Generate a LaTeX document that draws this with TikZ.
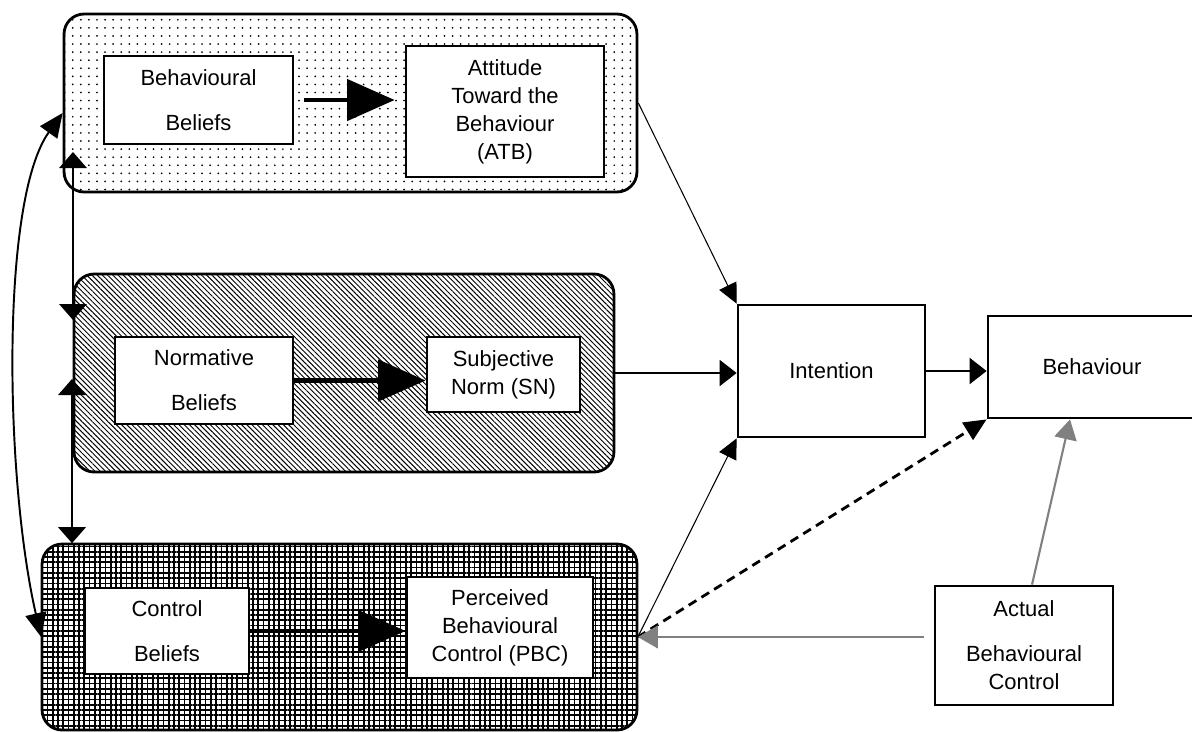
\documentclass[tikz,border=0pt]{standalone}
\usepackage{fontspec}
\setmainfont{Liberation Sans}
\usetikzlibrary{arrows.meta,patterns.meta}
\definecolor{arrowgray}{RGB}{128,128,128}

\tikzset{
  every node/.style={font=\fontsize{12.5pt}{16pt}\selectfont},
  box/.style={draw, line width=1.6pt, fill=white, align=center, inner sep=0pt},
  grp/.style={draw, line width=1.6pt, rounded corners=0.4cm, inner sep=0pt},
  dotfill/.style={pattern={Dots[distance=4.6pt, radius=0.55pt]}},
  linefill/.style={pattern={Lines[angle=-45, distance=2.1pt, line width=0.55pt]}},
  gridfill/.style={pattern={Hatch[distance=3pt, line width=1pt]}},
  bigarrow/.style={line width=2.6pt, -{Triangle[length=0.95cm, width=0.82cm]}},
  midarrow/.style={line width=1.2pt, -{Triangle[length=0.34cm, width=0.52cm]}},
  thinarrow/.style={line width=0.6pt, -{Triangle[length=0.4cm, width=0.38cm]}},
  dasharrow/.style={line width=1.6pt, dash pattern=on 0.18cm off 0.12cm, -{Triangle[length=0.45cm, width=0.4cm]}},
  grayarrow/.style={draw=arrowgray, line width=1.2pt, -{Triangle[length=0.4cm, width=0.45cm]}},
  linkarrow/.style={line width=1.1pt, {Triangle[length=0.32cm, width=0.55cm]}-{Triangle[length=0.32cm, width=0.55cm]}},
  curvearrow/.style={line width=1.1pt, {Triangle[length=0.48cm, width=0.42cm]}-{Triangle[length=0.48cm, width=0.42cm]}}
}

\begin{document}
\begin{tikzpicture}[x=0.02cm, y=-0.02cm]
\useasboundingbox (0,0) rectangle (1192,731);

\node[grp, dotfill, minimum width=11.46cm, minimum height=3.56cm] (g1) at (350.5,103) {};
\node[grp, linefill, minimum width=10.8cm, minimum height=3.96cm] (g2) at (344,373) {};
\node[grp, gridfill, minimum width=11.9cm, minimum height=3.72cm] (g3) at (339.5,637) {};

\node[box, minimum width=3.78cm, minimum height=1.76cm] (bb) at (198.5,100) {Behavioural\\[0.34cm]Beliefs};
\node[box, minimum width=3.96cm, minimum height=2.62cm] (atb) at (505,111.5) {Attitude\\Toward the\\Behaviour\\(ATB)};

\node[box, minimum width=3.56cm, minimum height=1.74cm] (nb) at (204,380.5) {Normative\\[0.34cm]Beliefs};
\node[box, minimum width=3.06cm, minimum height=1.5cm] (sn) at (503.5,374.5) {Subjective\\Norm (SN)};

\node[box, minimum width=3.28cm, minimum height=1.72cm] (cb) at (167,631) {Control\\[0.34cm]Beliefs};
\node[box, minimum width=3.72cm, minimum height=2.02cm] (pbc) at (500,627.5) {Perceived\\Behavioural\\Control (PBC)};

\node[box, minimum width=3.74cm, minimum height=2.64cm] (int) at (831.5,371) {Intention};
\node[box, minimum width=4.16cm, minimum height=2.04cm] (beh) at (1092,367) {Behaviour};
\node[box, minimum width=3.56cm, minimum height=2.38cm] (abc) at (1024,645.5) {Actual\\[0.34cm]Behavioural\\Control};

\coordinate (a1) at (73,152);
\coordinate (a2) at (73,320);
\coordinate (b1) at (72,379);

\draw[bigarrow, shorten <=0.2cm, shorten >=0.2cm] (bb.east) -- (bb.east -| atb.west);
\draw[bigarrow] (nb.east) -- (nb.east -| sn.west);
\draw[bigarrow] (cb.east) -- (cb.east -| pbc.west);

\draw[thinarrow] (g1.east) -- (int.north west);
\draw[midarrow] (g2.east) -- (g2.east -| int.west);
\draw[midarrow] (int.east) -- (int.east -| beh.west);
\draw[thinarrow] (g3.east) -- (int.south west);
\draw[dasharrow] (g3.east) -- (beh.south west);
\draw[grayarrow, shorten <=0.2cm] (abc.west |- g3.east) -- (g3.east);
\draw[grayarrow] ([xshift=0.16cm]abc.north) -- ([xshift=-0.44cm]beh.south);

\draw[linkarrow] (a1) -- (a2);
\draw[linkarrow] (b1) -- (b1 |- g3.north);
\draw[curvearrow] (g3.west) .. controls (5,480) and (0,200) .. ([yshift=-0.2cm]g1.west);
\end{tikzpicture}
\end{document}
